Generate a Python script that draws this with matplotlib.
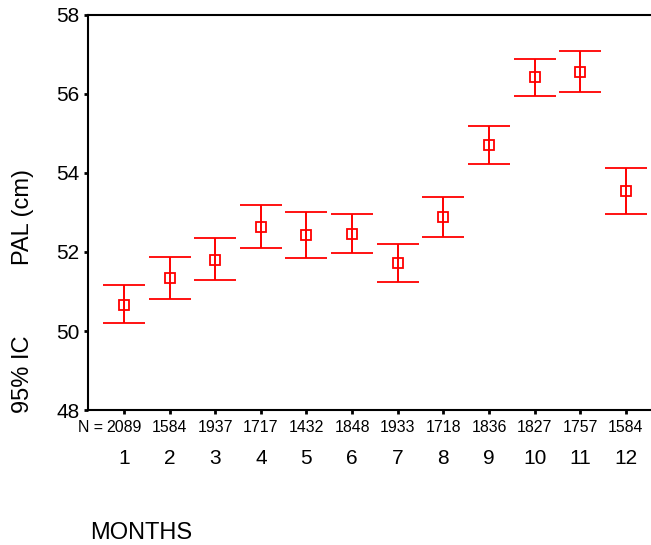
import matplotlib.pyplot as plt
import matplotlib.transforms as mtransforms
import numpy as np

plt.rcParams['font.family'] = ['Liberation Sans', 'DejaVu Sans']

months = [1, 2, 3, 4, 5, 6, 7, 8, 9, 10, 11, 12]
n_counts = [2089, 1584, 1937, 1717, 1432, 1848, 1933, 1718, 1836, 1827, 1757, 1584]
means = [50.67, 51.33, 51.81, 52.64, 52.43, 52.46, 51.73, 52.89, 54.71, 56.42, 56.56, 53.55]
upper = [51.16, 51.88, 52.35, 53.18, 53.01, 52.97, 52.20, 53.40, 55.18, 56.88, 57.10, 54.13]
lower = [50.21, 50.82, 51.30, 52.10, 51.84, 51.98, 51.25, 52.38, 54.24, 55.94, 56.05, 52.97]

means = np.array(means)
err = [means - np.array(lower), np.array(upper) - means]

fig = plt.figure(figsize=(6.51, 5.45), dpi=100)
ax = fig.add_axes([0.135, 0.2477, 0.865, 0.7248])

ax.errorbar(months, means, yerr=err, fmt='s', color='#ff0000', mfc='none',
            mec='#ff0000', ms=7, mew=1.3, elinewidth=1.4, capsize=15, capthick=1.4)

ax.set_xlim(0.21, 12.55)
ax.set_ylim(48, 58)
ax.set_yticks([48, 50, 52, 54, 56, 58])
ax.set_xticks(months)
ax.set_xticklabels([str(m) for m in months], fontsize=15)
ax.tick_params(axis='x', length=3, width=2, pad=25, direction='out')
ax.tick_params(axis='y', length=3, width=2, labelsize=15, pad=3, direction='out')
ax.spines['right'].set_visible(False)
for s in ['left', 'bottom', 'top']:
    ax.spines[s].set_linewidth(1.5)

trans = mtransforms.blended_transform_factory(ax.transData, fig.transFigure)
for m, n in zip(months, n_counts):
    ax.text(m, 1 - 427 / 545, str(n), transform=trans, ha='center', va='center', fontsize=11.4)
ax.text(0.55, 1 - 427 / 545, 'N =', transform=trans, ha='right', va='center', fontsize=11.4)

fig.text(23 / 651, 1 - 217 / 545, 'PAL (cm)', rotation=90, ha='center', va='center', fontsize=17)
fig.text(23 / 651, 1 - 374 / 545, '95% IC', rotation=90, ha='center', va='center', fontsize=17)
fig.text(90 / 651, 1 - 533 / 545, 'MONTHS', ha='left', va='center', fontsize=17)

fig.savefig('out.png', dpi=100)
